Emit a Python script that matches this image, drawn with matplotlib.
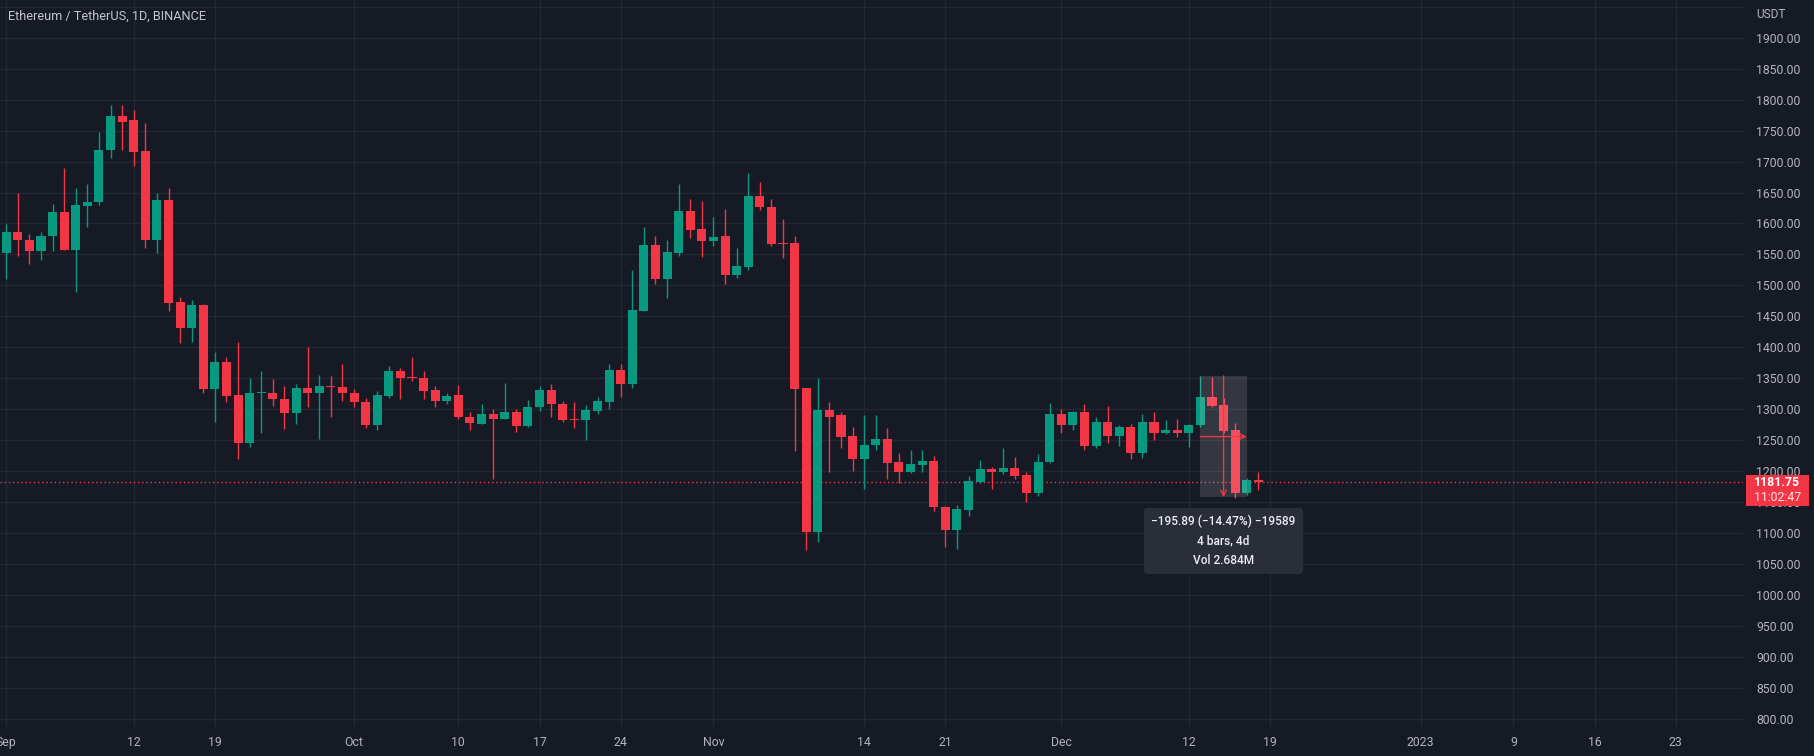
#ETH/USDT daily candles, Sep - Dec 2022, in the TradingView dark look
import numpy as np
import pandas as pd
import matplotlib
matplotlib.use('Agg')
import matplotlib.pyplot as plt
import matplotlib.dates as mdates
from matplotlib.patches import Rectangle
from matplotlib.transforms import blended_transform_factory, ScaledTranslation, Affine2D

#daily OHLC, 2022-09-01 .. 2022-12-18
opens = [1553, 1586, 1574, 1556, 1579, 1618, 1557, 1629, 1634, 1718, 1774, 1767, 1717, 1574, 1638,
         1473, 1432, 1468, 1333, 1376, 1323, 1245, 1326, 1326, 1316, 1294, 1335, 1327, 1338, 1336,
         1327, 1312, 1275, 1322, 1362, 1352, 1351, 1331, 1314, 1323, 1288, 1277, 1293, 1285, 1295,
         1273, 1303, 1331, 1309, 1284, 1282, 1298, 1312, 1363, 1341, 1459, 1565, 1511, 1553, 1620,
         1591, 1572, 1579, 1517, 1529, 1644, 1627, 1568, 1568, 1334, 1101, 1299, 1290, 1257, 1220,
         1242, 1252, 1215, 1199, 1210, 1216, 1142, 1105, 1137, 1183, 1203, 1198, 1205, 1194, 1165,
         1215, 1293, 1275, 1295, 1240, 1279, 1257, 1271, 1230, 1279, 1262, 1266, 1262, 1274, 1320,
         1307, 1267, 1165, 1185]
highs = [1599, 1650, 1583, 1587, 1632, 1689, 1657, 1664, 1747, 1791, 1791, 1783, 1762, 1649, 1657,
         1482, 1477, 1470, 1392, 1385, 1409, 1350, 1361, 1349, 1338, 1341, 1400, 1355, 1354, 1373,
         1333, 1318, 1329, 1370, 1366, 1385, 1362, 1338, 1327, 1339, 1296, 1308, 1301, 1343, 1300,
         1315, 1338, 1340, 1314, 1311, 1307, 1319, 1373, 1373, 1525, 1595, 1579, 1574, 1664, 1640,
         1637, 1611, 1623, 1560, 1681, 1667, 1639, 1607, 1580, 1334, 1350, 1311, 1295, 1272, 1291,
         1291, 1269, 1229, 1235, 1235, 1225, 1143, 1145, 1192, 1218, 1207, 1237, 1223, 1198, 1228,
         1310, 1300, 1298, 1308, 1287, 1305, 1275, 1277, 1292, 1296, 1283, 1285, 1276, 1353, 1352,
         1318, 1278, 1189, 1198]
lows = [1510, 1547, 1535, 1541, 1556, 1557, 1490, 1595, 1630, 1706, 1718, 1693, 1561, 1553, 1459,
        1407, 1408, 1326, 1279, 1312, 1219, 1239, 1262, 1305, 1268, 1277, 1303, 1252, 1288, 1314,
        1303, 1269, 1266, 1318, 1316, 1345, 1317, 1304, 1308, 1285, 1267, 1277, 1188, 1284, 1264,
        1272, 1298, 1287, 1279, 1269, 1251, 1292, 1300, 1320, 1334, 1458, 1502, 1479, 1548, 1577,
        1546, 1564, 1502, 1512, 1525, 1622, 1563, 1544, 1232, 1073, 1085, 1199, 1238, 1201, 1171,
        1234, 1187, 1181, 1197, 1198, 1135, 1078, 1074, 1128, 1181, 1171, 1196, 1187, 1151, 1160,
        1214, 1262, 1266, 1235, 1238, 1246, 1240, 1219, 1222, 1250, 1260, 1256, 1239, 1272, 1303,
        1262, 1156, 1162, 1170]
closes = [1586, 1573, 1556, 1580, 1618, 1557, 1630, 1634, 1719, 1774, 1764, 1716, 1574, 1638, 1472,
          1432, 1468, 1333, 1376, 1322, 1245, 1326, 1327, 1316, 1294, 1335, 1327, 1338, 1336, 1327,
          1311, 1275, 1323, 1362, 1351, 1351, 1330, 1314, 1322, 1288, 1278, 1293, 1285, 1295, 1273,
          1304, 1331, 1308, 1283, 1282, 1299, 1313, 1363, 1341, 1460, 1565, 1511, 1554, 1620, 1589,
          1572, 1578, 1517, 1531, 1644, 1626, 1567, 1567, 1333, 1101, 1299, 1288, 1255, 1220, 1242,
          1252, 1214, 1199, 1212, 1216, 1142, 1105, 1139, 1184, 1203, 1198, 1205, 1192, 1165, 1215,
          1293, 1275, 1295, 1240, 1279, 1257, 1271, 1230, 1279, 1262, 1266, 1261, 1274, 1320, 1306,
          1265, 1165, 1185, 1181.75]
start_date = '2022-09-01'

#time axis labels
xtick_dates = ['2022-09-01', '2022-09-12', '2022-09-19', '2022-10-01', '2022-10-10', '2022-10-17',
               '2022-10-24', '2022-11-01', '2022-11-14', '2022-11-21', '2022-12-01', '2022-12-12',
               '2022-12-19', '2023-01-01', '2023-01-09', '2023-01-16', '2023-01-23']
xtick_labels = ['Sep', '12', '19', 'Oct', '10', '17', '24', 'Nov', '14', '21', 'Dec', '12', '19',
                '2023', '9', '16', '23']
yticks = list(range(800, 1901, 50))

#measure tool: from 2022-12-13 to 2022-12-17
measure_start, measure_end = '2022-12-13', '2022-12-17'
measure_p0, measure_p1 = 1353.78, 1157.89
measure_text = '\u2212195.89 (\u221214.47%) \u221219589\n4 bars, 4d\nVol 2.684M'
timer_text = '11:02:47'

BG = '#161a25'
GRID = '#232733'
TXT = '#b2b5be'
UP = '#089981'
DOWN = '#f23645'

plt.rcParams['font.family'] = ['Roboto', 'DejaVu Sans']

df = pd.DataFrame({'open': opens, 'high': highs, 'low': lows, 'close': closes},
                  index=pd.date_range(start_date, periods=len(closes), freq='D'))
x = mdates.date2num(df.index)
up = df['close'] >= df['open']
colors = np.where(up, UP, DOWN)

fig = plt.figure(figsize=(18.14, 7.56), dpi=100, facecolor=BG)
ax = fig.add_axes([0, 29 / 756, 1743 / 1814, 727 / 756], facecolor=BG)

#candles
ax.vlines(x, df['low'], df['high'], colors=colors, linewidth=1, zorder=3)
body_bottom = np.minimum(df['open'], df['close'])
body_height = np.maximum((df['close'] - df['open']).abs(), 1.6)
ax.bar(x, body_height, bottom=body_bottom, width=0.78, color=colors, linewidth=0, zorder=4)

#axes ranges
x0 = x[0]
ax.set_xlim(x0 - 0.535, x0 + 149.8)
ax.set_ylim(786.9, 1960.9)

#grid + ticks
ax.set_yticks(yticks)
ax.set_yticks([1950], minor=True)
ax.set_yticklabels(['%.2f' % v for v in yticks])
ax.set_xticks(mdates.date2num(pd.to_datetime(xtick_dates)))
ax.set_xticklabels(xtick_labels)
ax.yaxis.tick_right()
ax.tick_params(axis='y', which='both', length=0, pad=9.4, labelsize=8.8, labelcolor=TXT)
ax.tick_params(axis='x', length=0, pad=6.5, labelsize=8.8, labelcolor=TXT)
ax.grid(True, which='both', color=GRID, linewidth=1)
ax.set_axisbelow(True)
for s in ax.spines.values():
    s.set_visible(False)

#last price line
last = df['close'].iloc[-1]
ax.axhline(last, color=DOWN, linewidth=1, linestyle=(0, (1, 2)), zorder=2)

#measure box
mx0 = mdates.date2num(pd.Timestamp(measure_start))
mx1 = mdates.date2num(pd.Timestamp(measure_end))
mxm = (mx0 + mx1) / 2
pm = (measure_p0 + measure_p1) / 2
ax.add_patch(Rectangle((mx0, measure_p1), mx1 - mx0, measure_p0 - measure_p1,
                       facecolor='#ffffff', alpha=0.13, linewidth=0, zorder=5))
ax.annotate('', xy=(mx1, pm), xytext=(mx0, pm),
            arrowprops=dict(arrowstyle='->', color=DOWN, lw=1, shrinkA=0, shrinkB=0,
                            mutation_scale=10), zorder=6)
ax.annotate('', xy=(mxm, measure_p1), xytext=(mxm, measure_p0),
            arrowprops=dict(arrowstyle='->', color=DOWN, lw=1, shrinkA=0, shrinkB=0,
                            mutation_scale=10), zorder=6)
ax.annotate(measure_text, xy=(mxm, measure_p1), xytext=(0, -18), textcoords='offset pixels',
            ha='center', va='top', fontsize=8.6, color='#eceef2', linespacing=1.6,
            fontweight='medium',
            bbox=dict(boxstyle='round,pad=0.62,rounding_size=0.3', fc='#2a2e39', ec='none'),
            zorder=7)

#price label on the axis
base = blended_transform_factory(ax.transAxes, ax.transData)
anchor = Affine2D() + ScaledTranslation(1.0, last, base)
ax.add_patch(Rectangle((2.7, -23.5), 63, 31, transform=anchor, facecolor=DOWN,
                       linewidth=0, clip_on=False, zorder=10))
ax.text(34.2, 0, '%.2f' % last, transform=anchor, ha='center', va='center', fontsize=8.8,
        color='white', fontweight='bold', clip_on=False, zorder=11)
ax.text(34.2, -15, timer_text, transform=anchor, ha='center', va='center', fontsize=8.8,
        color='#fde4e6', clip_on=False, zorder=11)

fig.text(1756 / 1814, 1 - 14 / 756, 'USDT', ha='left', va='center', fontsize=8.6, color=TXT)
fig.text(8 / 1814, 1 - 16 / 756, 'Ethereum / TetherUS, 1D, BINANCE', ha='left', va='center',
         fontsize=9.2, color='#c3c6ce')

fig.savefig('out.png', dpi=100, facecolor=BG)
